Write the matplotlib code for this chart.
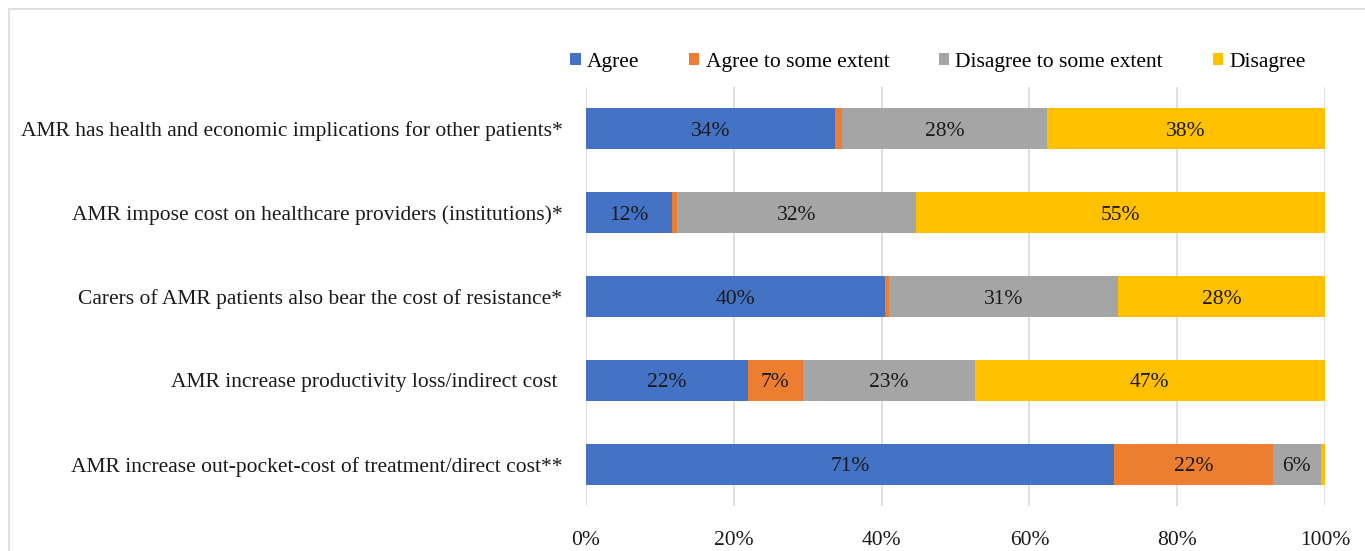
import matplotlib.pyplot as plt
from matplotlib.patches import Rectangle

# data (percent of respondents)
statements = [
    "AMR has health and economic implications for other patients*",
    "AMR impose cost on healthcare providers (institutions)*",
    "Carers of AMR patients also bear the cost of resistance*",
    "AMR increase productivity loss/indirect cost ",
    "AMR increase out-pocket-cost of treatment/direct cost**",
]
agree = [33.7, 11.7, 40.4, 21.9, 71.4]
agree_some = [1.0, 0.6, 0.6, 7.4, 21.6]
disagree_some = [27.7, 32.4, 31.0, 23.3, 6.4]
disagree = [37.6, 55.3, 28.0, 47.4, 0.6]

series_names = ["Agree", "Agree to some extent", "Disagree to some extent", "Disagree"]
colors = ["#4472C4", "#ED7D31", "#A5A5A5", "#FFC000"]
xticks = [0, 20, 40, 60, 80, 100]

plt.rcParams['font.family'] = ['Liberation Serif', 'DejaVu Serif']
FS = 15.5

fig = plt.figure(figsize=(13.65, 5.51), dpi=100)
ax = fig.add_axes([586 / 1365, 1 - 506 / 551, (1325 - 586) / 1365, (506 - 87) / 551])

# light frame around the chart area, like the Excel chart border
fig.patches.append(Rectangle((9 / 1365, -0.05), 1.1, 1 - 9 / 551 + 0.05,
                             transform=fig.transFigure, fill=False,
                             edgecolor='#D9D9D9', linewidth=1.2))

y = list(range(len(statements)))
left = [0] * len(statements)
for name, vals, col in zip(series_names,
                           [agree, agree_some, disagree_some, disagree], colors):
    bars = ax.barh(y, vals, left=left, height=0.49, color=col, label=name, zorder=3)
    for b, v in zip(bars, vals):
        if v >= 3:
            ax.text(b.get_x() + b.get_width() / 2, b.get_y() + b.get_height() / 2,
                    f"{v:.0f}%", ha='center', va='center_baseline', fontsize=FS,
                    color='#1a1a1a', zorder=4)
    left = [l + v for l, v in zip(left, vals)]

ax.set_xlim(0, 100)
ax.set_ylim(len(statements) - 0.5, -0.5)
ax.set_yticks(y)
ax.set_yticklabels(statements, fontsize=FS, va='center_baseline')
ax.set_xticks(xticks)
ax.set_xticklabels([f"{t}%" for t in xticks], fontsize=FS)
ax.tick_params(axis='both', length=0, colors='#1a1a1a')
ax.tick_params(axis='y', pad=17)
ax.tick_params(axis='x', pad=18)
ax.grid(axis='x', color='#D9D9D9', linewidth=1.2, zorder=0)
for s in ax.spines.values():
    s.set_visible(False)

ax.legend(loc='center', bbox_to_anchor=(938 / 1365, 1 - 62 / 551),
          bbox_transform=fig.transFigure, ncol=4, frameon=False,
          fontsize=FS, handlelength=0.47, handleheight=0.47,
          handletextpad=0.3, columnspacing=2.3)

fig.savefig('out.png', dpi=100)
